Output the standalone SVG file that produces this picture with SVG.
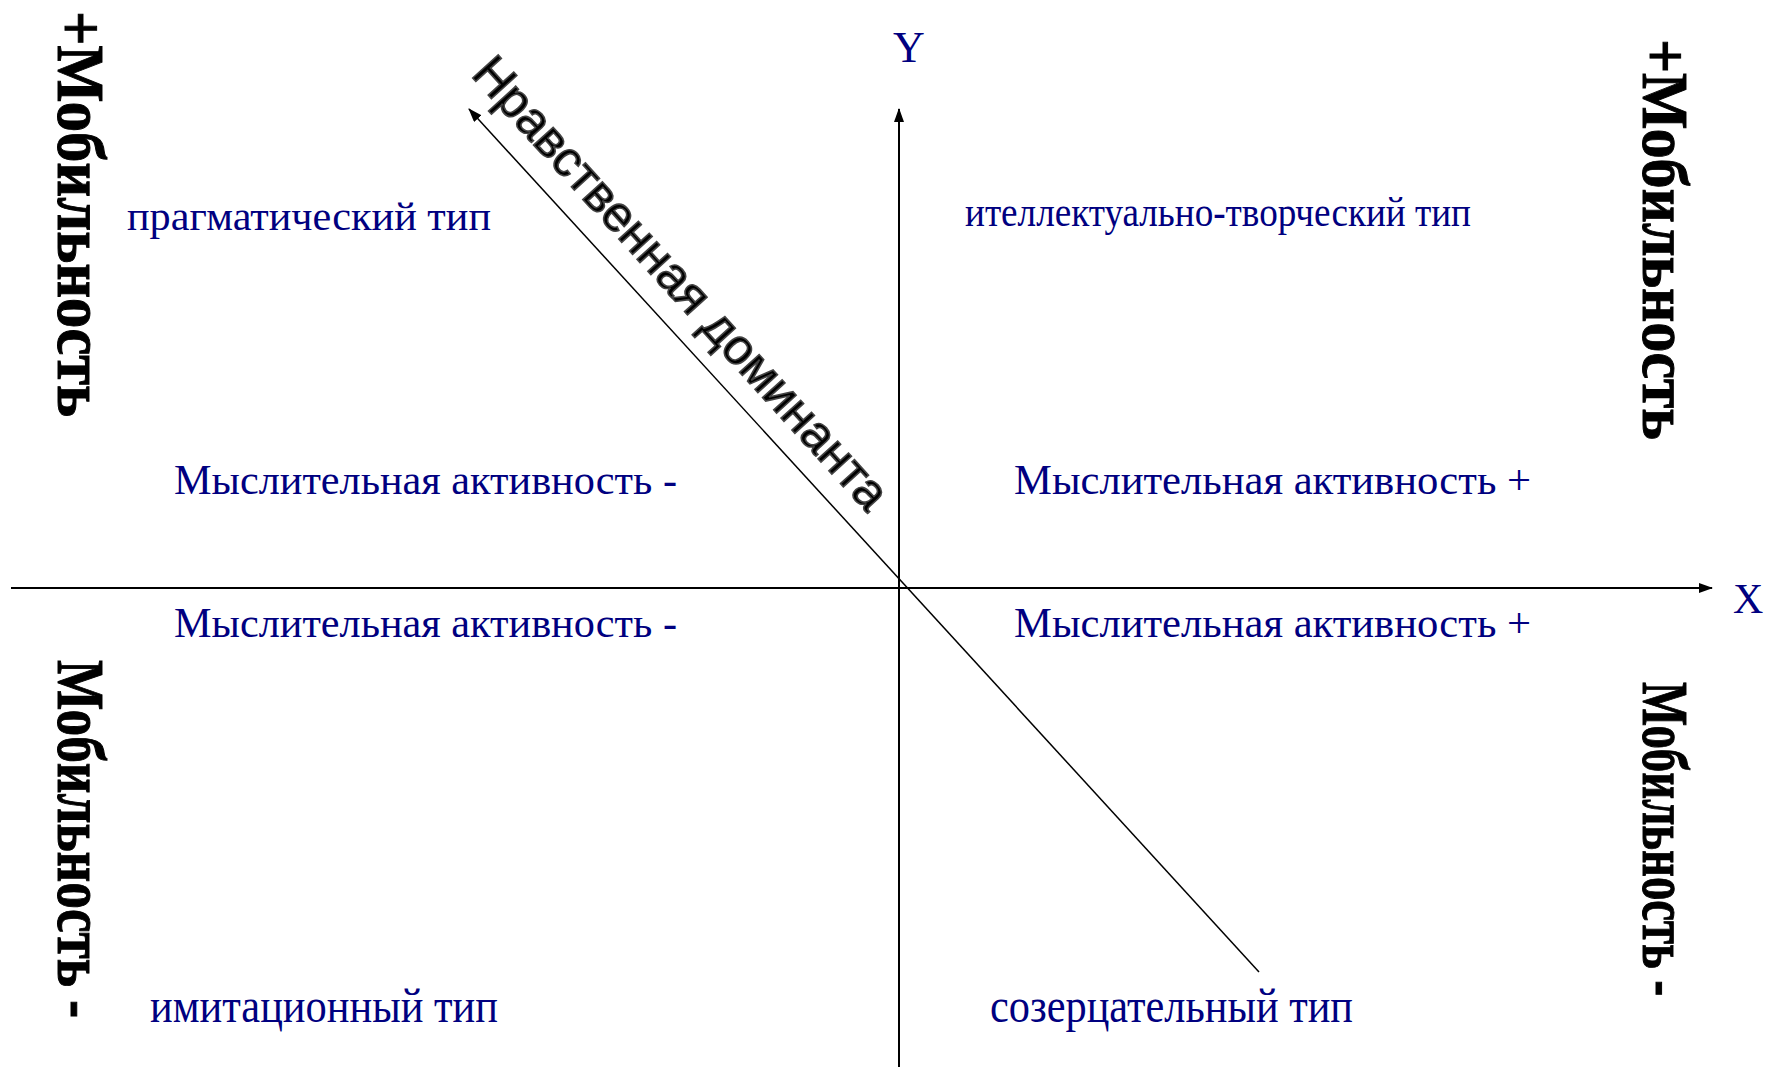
<svg xmlns="http://www.w3.org/2000/svg" width="1768" height="1067" viewBox="0 0 1768 1067">
<style>
.lbl{font-family:"Liberation Serif","Times New Roman",serif;fill:#000080;font-size:42px}
.mob{font-family:"Liberation Serif","Times New Roman",serif;font-weight:bold;fill:#000;stroke:#000;stroke-width:0.8;font-size:54px}
.dom{font-family:"Liberation Sans",Arial,sans-serif;fill:#000;stroke:#444;stroke-width:1.6;font-size:50px}
.axis{stroke:#000;stroke-width:2;fill:none}
.diag{stroke:#000;stroke-width:1.5;fill:none}
</style>
<defs>
<marker id="ah" markerWidth="14" markerHeight="10" refX="13" refY="5" orient="auto" markerUnits="userSpaceOnUse">
<path d="M0,0 L14,5 L0,10 Z" fill="#000"/>
</marker>
</defs>
<rect width="1768" height="1067" fill="#fff"/>
<g id="connectors">
<line class="axis" x1="899" y1="1067" x2="899" y2="109" marker-end="url(#ah)"/>
<line class="axis" x1="11" y1="588" x2="1712" y2="588" marker-end="url(#ah)"/>
<line class="diag" x1="1259" y1="972" x2="469" y2="109" marker-end="url(#ah)"/>
</g>
<g id="axis-y-label"><text class="lbl" x="893" y="62" style="font-size:44px">Y</text></g>
<g id="axis-x-label"><text class="lbl" x="1733" y="613" style="font-size:42px">X</text></g>
<g id="dominanta"><text class="dom" x="470" y="75" transform="rotate(47.8 470 75)" textLength="592" lengthAdjust="spacingAndGlyphs">Нравственная доминанта</text></g>
<g id="mob-tl"><text class="mob" x="0" y="0" transform="translate(58,11) rotate(90) scale(1,1.24)" textLength="406" lengthAdjust="spacingAndGlyphs">+Мобильность</text></g>
<g id="mob-tr"><text class="mob" x="0" y="0" transform="translate(1643,39) rotate(90) scale(1,1.22)" textLength="401" lengthAdjust="spacingAndGlyphs">+Мобильность</text></g>
<g id="mob-bl"><text class="mob" x="0" y="0" transform="translate(58,660) rotate(90) scale(1,1.24)" textLength="358" lengthAdjust="spacingAndGlyphs">Мобильность -</text></g>
<g id="mob-br"><text class="mob" x="0" y="0" transform="translate(1643,682) rotate(90) scale(1,1.22)" textLength="314" lengthAdjust="spacingAndGlyphs">Мобильность -</text></g>
<g id="type-pragm"><text class="lbl" x="127" y="230" style="font-size:40px" textLength="364" lengthAdjust="spacingAndGlyphs">прагматический тип</text></g>
<g id="type-intel"><text class="lbl" x="965" y="226" style="font-size:42px" textLength="506" lengthAdjust="spacingAndGlyphs">ителлектуально-творческий тип</text></g>
<g id="ma-tl"><text class="lbl" x="174" y="494" textLength="503" lengthAdjust="spacingAndGlyphs">Мыслительная активность -</text></g>
<g id="ma-bl"><text class="lbl" x="174" y="637" textLength="503" lengthAdjust="spacingAndGlyphs">Мыслительная активность -</text></g>
<g id="ma-tr"><text class="lbl" x="1014" y="494" textLength="517" lengthAdjust="spacingAndGlyphs">Мыслительная активность +</text></g>
<g id="ma-br"><text class="lbl" x="1014" y="637" textLength="517" lengthAdjust="spacingAndGlyphs">Мыслительная активность +</text></g>
<g id="type-imit"><text class="lbl" x="150" y="1022" style="font-size:48px" textLength="348" lengthAdjust="spacingAndGlyphs">имитационный тип</text></g>
<g id="type-sozer"><text class="lbl" x="990" y="1022" style="font-size:48px" textLength="363" lengthAdjust="spacingAndGlyphs">созерцательный тип</text></g>
</svg>
